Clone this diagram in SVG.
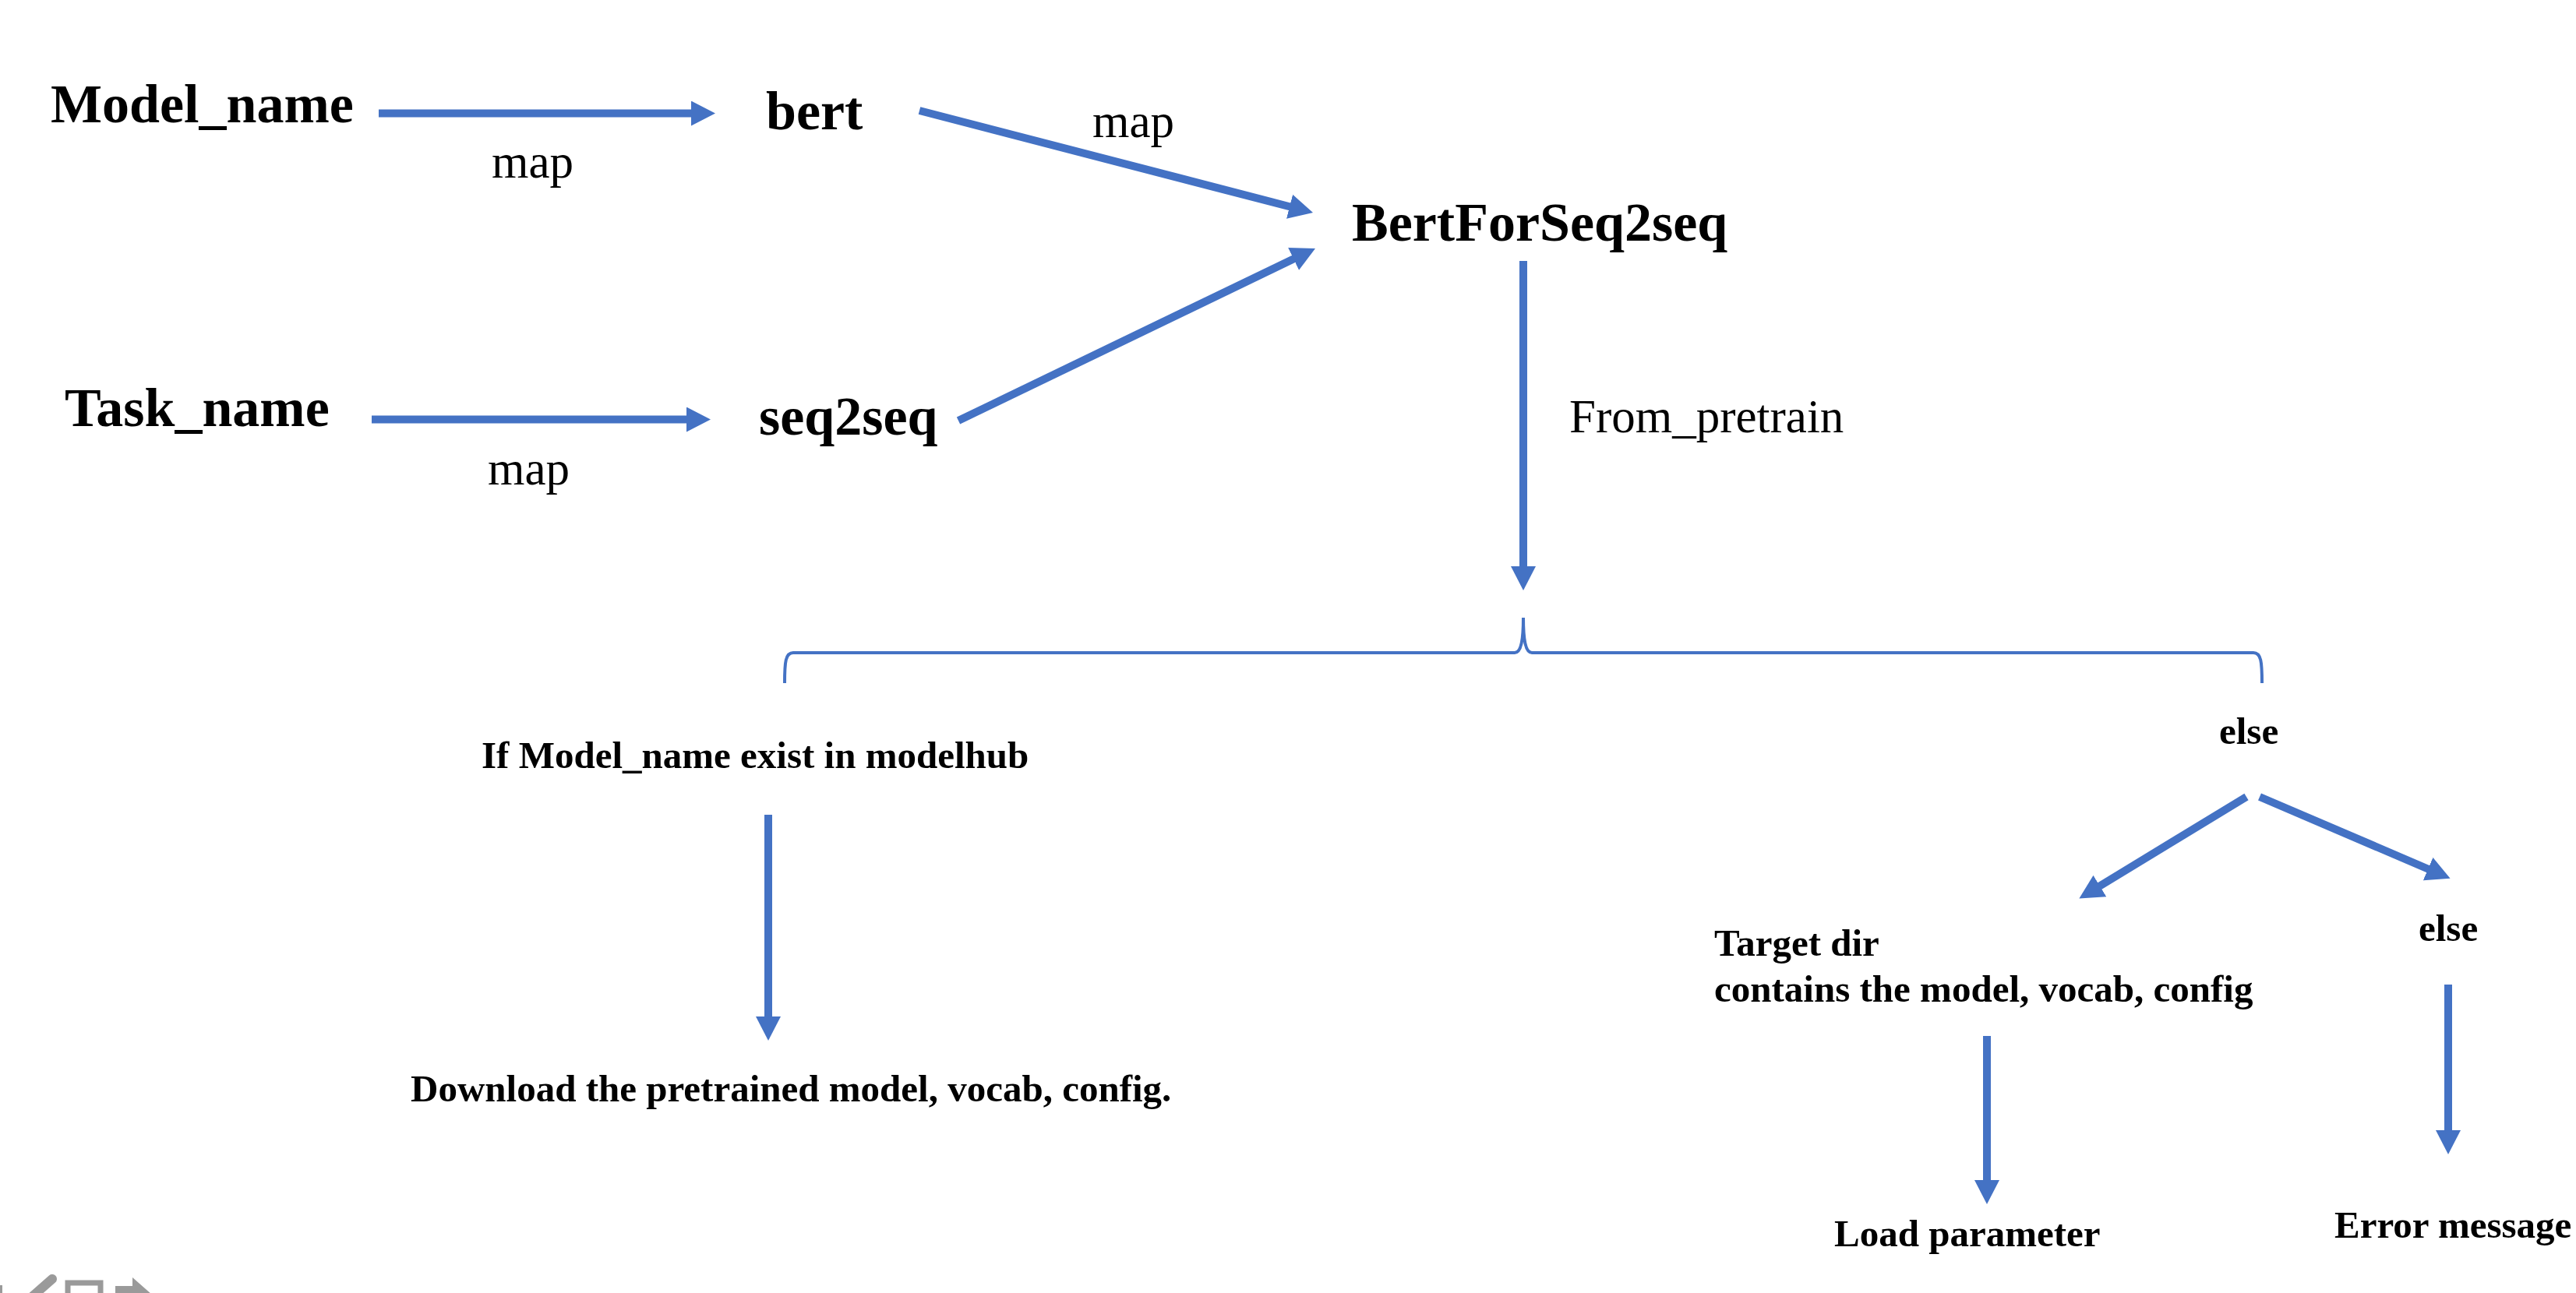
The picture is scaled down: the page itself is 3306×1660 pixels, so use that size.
<svg xmlns="http://www.w3.org/2000/svg" width="3306" height="1660" viewBox="0 0 3306 1660">
<style>
.big{font-family:"Liberation Serif","Times New Roman",serif;font-weight:bold;font-size:70px;fill:#000}
.lbl{font-family:"Liberation Serif","Times New Roman",serif;font-size:61px;fill:#000}
.sm{font-family:"Liberation Serif","Times New Roman",serif;font-weight:bold;font-size:49px;fill:#000}
.ar{stroke:#4472C4;stroke-width:10;fill:none;marker-end:url(#head)}
.ui{fill:#9a9a9a}
</style>
<defs>
<marker id="head" markerUnits="userSpaceOnUse" viewBox="0 0 31 32" markerWidth="31" markerHeight="32" refX="1" refY="16" orient="auto">
<path d="M0,0 L31,16 L0,32 z" fill="#4472C4"/>
</marker>
</defs>
<rect width="3306" height="1660" fill="#fff"/>
<g id="connectors">
<line class="ar" x1="486" y1="145.5" x2="888" y2="145.5"/>
<line class="ar" x1="477" y1="538.5" x2="882" y2="538.5"/>
<line class="ar" x1="1180" y1="142" x2="1656" y2="265.5"/>
<line class="ar" x1="1230" y1="540" x2="1661" y2="332"/>
<line class="ar" x1="1955" y1="335" x2="1955" y2="728"/>
<line class="ar" x1="986" y1="1046" x2="986" y2="1306"/>
<line class="ar" x1="2883" y1="1023" x2="2694" y2="1138"/>
<line class="ar" x1="2900" y1="1023" x2="3117" y2="1116"/>
<line class="ar" x1="2550" y1="1330" x2="2550" y2="1516"/>
<line class="ar" x1="3142" y1="1264" x2="3142" y2="1452"/>
<path id="brace" d="M1007,877 C1007,850 1008,838 1018,838 L1944,838 C1952,838 1955,822 1955,793 C1955,822 1958,838 1966,838 L2892,838 C2902,838 2903,850 2903,877" fill="none" stroke="#4472C4" stroke-width="4"/>
</g>
<g id="n-model_name"><text class="big" x="65" y="157">Model_name</text></g>
<g id="n-bert"><text class="big" x="983" y="166">bert</text></g>
<g id="n-task_name"><text class="big" x="83" y="547">Task_name</text></g>
<g id="n-seq2seq"><text class="big" x="974" y="558">seq2seq</text></g>
<g id="n-bertforseq2seq"><text class="big" x="1735" y="309">BertForSeq2seq</text></g>
<g id="labels">
<text class="lbl" x="631" y="228">map</text>
<text class="lbl" x="626" y="622">map</text>
<text class="lbl" x="1402" y="176">map</text>
<text class="lbl" x="2014" y="555">From_pretrain</text>
</g>
<g id="n-if"><text class="sm" x="618" y="986">If Model_name exist in modelhub</text></g>
<g id="n-download"><text class="sm" x="527" y="1414">Download the pretrained model, vocab, config.</text></g>
<g id="n-else1"><text class="sm" x="2848" y="955">else</text></g>
<g id="n-target"><text class="sm" x="2200" y="1227">Target dir</text><text class="sm" x="2200" y="1286">contains the model, vocab, config</text></g>
<g id="n-else2"><text class="sm" x="3104" y="1208">else</text></g>
<g id="n-load"><text class="sm" x="2354" y="1600">Load parameter</text></g>
<g id="n-error"><text class="sm" x="2996" y="1589">Error message</text></g>
<g id="ui-icons">
<rect class="ui" x="0" y="1650" width="3" height="10"/>
<line x1="67" y1="1642" x2="42" y2="1664" stroke="#9a9a9a" stroke-width="12" stroke-linecap="round"/>
<rect x="87" y="1647" width="42" height="30" fill="none" stroke="#9a9a9a" stroke-width="7"/>
<path class="ui" d="M148,1651 L170,1651 L170,1640 L195,1662 L148,1662 z"/>
</g>
</svg>
